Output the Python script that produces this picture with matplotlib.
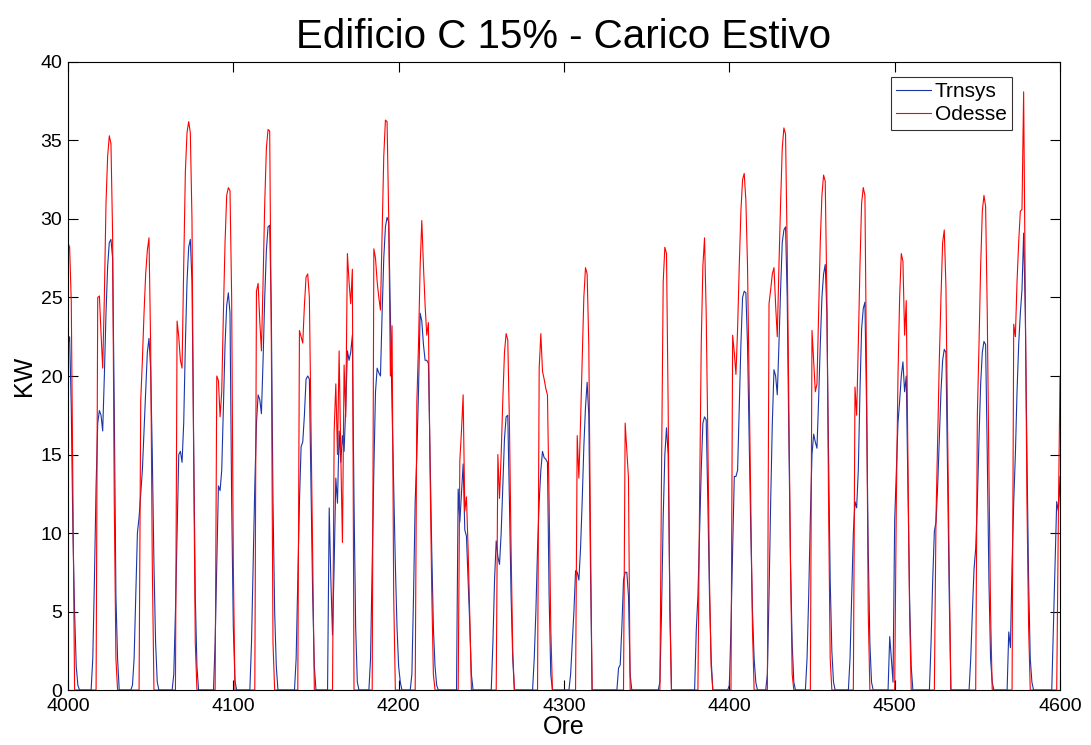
import numpy as np
import matplotlib
matplotlib.use("Agg")
import matplotlib.pyplot as plt

plt.rcParams['font.family'] = ['Liberation Sans', 'DejaVu Sans']

# ---- data (hourly values, kW) ----
hour_first = 4000
hour_last = 4601

title = "Edificio C 15% - Carico Estivo"
x_label = "Ore"
y_label = "KW"
series_names = ["Trnsys", "Odesse"]
x_ticks = [4000, 4100, 4200, 4300, 4400, 4500, 4600]
y_ticks = [0, 5, 10, 15, 20, 25, 30, 35, 40]

# Trnsys: daily non-zero stretches (first hour, hourly values); other hours are 0
trnsys_starts = [4000, 4015, 4039, 4064, 4089, 4111, 4138, 4158, 4183, 4208,
                 4236, 4257, 4282, 4304, 4333, 4358, 4380, 4400, 4423, 4447,
                 4473, 4497, 4522, 4546, 4569, 4596]
trnsys_days = [
    [22, 22.5, 18, 10, 5, 1.5, 0.3],
    [2, 7, 13, 17, 17.8, 17.5, 16.5, 20, 24, 27, 28.5, 28.7, 27.5, 18, 6, 2],
    [0.3, 2, 6, 10, 11, 12.5, 14, 16.5, 19, 21.5, 22.4, 20.5, 15, 8, 3, 0.5],
    [1, 5, 10, 15, 15.2, 14.5, 17, 22, 26, 28.2, 28.7, 26, 16, 6, 1.5],
    [3, 8, 13, 12.7, 14, 18, 22, 24.5, 25.3, 24, 12, 4, 0.6],
    [3, 8, 13, 17, 18.8, 18.5, 17.6, 21, 25, 28, 29.5, 29.6, 24, 12, 5, 1.5],
    [2, 7, 12, 15.5, 15.8, 17.5, 19.8, 20, 19.8, 13, 6, 1.5],
    [11.6, 7, 3.5, 8, 13.5, 11.9, 16.5, 14.5, 16.2, 15.2, 18, 21.6, 21, 21.5, 22.6, 12, 4, 0.5],
    [2, 8, 14, 19, 20.5, 20.2, 20, 24, 27.5, 29.5, 30.1, 29.8, 24, 18, 13, 8, 4, 1.5, 0.5],
    [1, 6, 12, 15, 19, 24, 23.5, 22, 21, 21, 20.8, 15, 9, 4, 1.5, 0.3],
    [12.8, 10.7, 12.5, 14.4, 10.2, 9.8, 7, 4.2, 1],
    [3, 7, 9.5, 8.5, 8, 10, 13, 16, 17.4, 17.5, 12, 6, 2],
    [2, 5, 9, 12, 14, 15.2, 14.8, 14.7, 14.5, 6, 1],
    [1, 3, 5, 7.6, 7.5, 7, 9, 12, 15.5, 18, 19.6, 17.5, 8],
    [1.4, 1.6, 4, 7, 7.5, 7.5, 6, 1],
    [0.5, 5, 11, 15, 16.7, 15, 6],
    [3.8, 6, 10, 14, 17, 17.4, 17.2, 12, 6, 2],
    [0.3, 4, 9, 13.6, 13.6, 14, 18, 22, 25, 25.4, 25.3, 22, 16, 10, 5, 2, 0.5],
    [1, 6, 12, 17, 20.4, 20, 18.8, 22, 25.5, 28.5, 29.3, 29.5, 25, 16, 8, 3, 0.5],
    [2, 6, 11, 15, 16.3, 15.8, 15.4, 18.5, 22, 25, 26.5, 27.1, 24, 15, 7, 2.5, 0.5],
    [2, 6, 10, 12, 11.6, 14, 19, 23, 24.3, 24.7, 18, 9, 3, 0.5],
    [3.4, 2, 0.5, 10.8, 14, 17, 18.4, 20, 20.9, 19, 20, 13, 6, 1.5],
    [3, 7, 10.1, 10.7, 13, 16, 19, 21, 21.7, 21.5, 14, 6],
    [2, 5, 7.7, 9, 12, 16, 19.5, 21.5, 22.2, 22, 15, 7, 2, 0.5],
    [3.7, 2.7, 8, 12, 15, 19, 22, 24, 25.5, 29.1, 24, 15, 7, 2, 0.5],
    [4, 8, 12, 11.4, 13.6, 8],
]

# Odesse: daily non-zero stretches (first hour, hourly values); other hours are 0
odesse_starts = [4000, 4018, 4044, 4066, 4090, 4114, 4140, 4161, 4185, 4211,
                 4237, 4260, 4285, 4308, 4337, 4359, 4382, 4402, 4424, 4450,
                 4476, 4501, 4525, 4550, 4572, 4599]
odesse_days = [
    [28.5, 28.2, 24.7, 12],
    [25.0, 25.1, 22.7, 20.5, 25, 31, 34, 35.3, 34.8, 29, 12, 2],
    [18.4, 21, 24, 26.5, 28, 28.8, 22, 8],
    [23.5, 22.5, 21, 20.5, 27, 33, 35.5, 36.2, 35.5, 30, 15, 3],
    [20, 19.7, 17.4, 19, 24, 28.5, 31.5, 32, 31.8, 25, 8],
    [25.4, 25.9, 23.5, 21.6, 26, 31, 34.5, 35.7, 35.6, 22, 3],
    [22.9, 22.5, 22.1, 24.5, 26.3, 26.5, 25, 16.9, 8.5],
    [16.5, 19.5, 15, 21.6, 15, 9.4, 20.7, 17.4, 27.8, 26, 24.6, 26.8],
    [28.1, 27.5, 26, 25, 24.2, 29, 34, 36.3, 36.2, 30, 20, 23.2, 6],
    [18.3, 22, 27, 29.9, 27, 24.5, 22.6, 23.4, 14, 6.4, 1],
    [14.6, 16.5, 18.8, 11.4, 12.3, 9, 4.8],
    [15, 12.2, 15, 18.5, 21.5, 22.7, 22.3, 17, 9, 2.5],
    [20.5, 22.7, 20.3, 19.8, 19.2, 18.8, 12, 4],
    [16.2, 13.5, 17, 21, 25, 26.9, 26.5, 22, 10],
    [17, 15.2, 13.5],
    [14, 26, 28.2, 27.8, 18, 5],
    [12, 22, 27, 28.8, 24, 16, 7, 1.5],
    [22.6, 21.5, 20.1, 23, 27, 30.5, 32.5, 32.9, 31.2, 27, 19.5, 11.6, 3.8],
    [24.6, 25.5, 26.5, 26.9, 24.5, 22.5, 27, 31, 34.5, 35.8, 35.4, 28, 18, 8, 1],
    [22.9, 21, 19, 19.5, 24, 28.5, 31.5, 32.8, 32.4, 25, 12, 2],
    [19.3, 17.5, 22, 27, 31, 32, 31.5, 20, 5],
    [12, 20, 25, 27.8, 27.3, 22.6, 24.8, 15, 5],
    [11, 16, 21, 25, 28.5, 29.3, 25.7, 16.9, 7.7],
    [17.5, 22, 27, 30.5, 31.5, 30.8, 24, 14, 5],
    [23.3, 22.5, 26, 28.5, 30.5, 30.6, 38.1, 25, 12, 4],
    [11, 20, 9.5],
]


def build(starts, days):
    hours = np.arange(hour_first, hour_last + 1)
    vals = np.zeros(len(hours))
    for s, d in zip(starts, days):
        i = s - hour_first
        vals[i:i + len(d)] = d
    return hours, vals


h_t, trnsys = build(trnsys_starts, trnsys_days)
h_o, odesse = build(odesse_starts, odesse_days)

fig = plt.figure(figsize=(10.91, 7.45), dpi=100)
ax = fig.add_axes([0.0623, 0.0738, 0.9093, 0.8430])

ax.plot(h_t, trnsys, color='#1a35a8', lw=0.8, label=series_names[0])
ax.plot(h_o, odesse, color='#ff0000', lw=0.8, label=series_names[1])

ax.set_xlim(4000, 4600)
ax.set_ylim(0, 40)
ax.set_xticks(x_ticks)
ax.set_yticks(y_ticks)
ax.tick_params(direction='in', top=True, right=True, labelsize=14, length=7, width=0.8)
ax.tick_params(axis='x', pad=6)
ax.tick_params(axis='y', pad=4)
for sp in ax.spines.values():
    sp.set_linewidth(0.8)

ax.set_title(title, fontsize=29, pad=10)
ax.set_xlabel(x_label, fontsize=18, labelpad=0)
ax.set_ylabel(y_label, fontsize=18, labelpad=3)

leg = ax.legend(loc='upper right', bbox_to_anchor=(0.9516, 0.976), fontsize=15,
                frameon=True, fancybox=False, edgecolor='black', handlelength=1.65,
                handletextpad=0.2, borderpad=0.25, labelspacing=0.2, borderaxespad=0)
leg.get_frame().set_linewidth(0.8)

fig.savefig("out.png", dpi=100)
